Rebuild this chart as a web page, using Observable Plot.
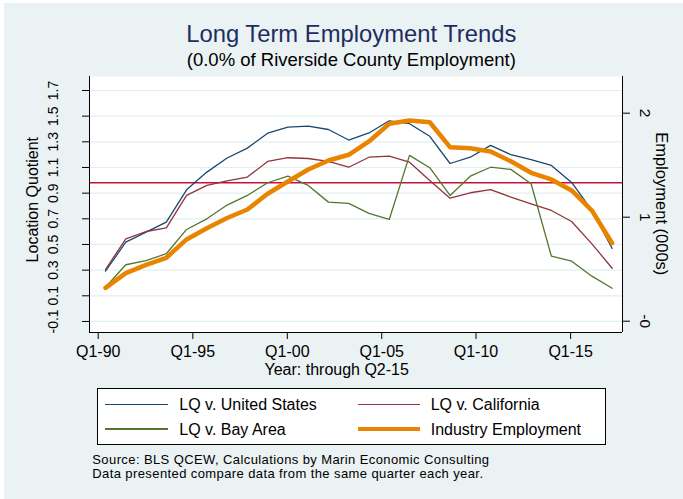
<!DOCTYPE html>
<html>
<head>
<meta charset="utf-8">
<script src="https://cdn.jsdelivr.net/npm/d3@7"></script>
<script src="https://cdn.jsdelivr.net/npm/@observablehq/plot@0.6"></script>
<style>
  html, body { margin: 0; padding: 0; background: #ffffff; }
  #chart { position: relative; width: 683px; height: 499px; overflow: hidden; background: #ffffff;
           font-family: "Liberation Sans", Arial, Helvetica, sans-serif; color: #000; }
  #bg { position: absolute; left: 4px; top: 3px; right: 0; bottom: 0; background: rgb(234,242,243); }
  .abs { position: absolute; white-space: nowrap; }
  #title { left: 0; width: 702.6px; top: 22px; text-align: center; font-size: 23.8px; line-height: 23.8px; color: #1c2d5e; }
  #subtitle { left: 0; width: 702.6px; top: 50.6px; text-align: center; font-size: 18.5px; line-height: 18.5px; color: #000; }
  #plotwrap { position: absolute; left: 0; top: 72px; }
  #legend { position: absolute; left: 97px; top: 388px; width: 509px; height: 57px; box-sizing: border-box;
            background: #fff; border: 1px solid #000; }
  .sw { position: absolute; }
  .lt { position: absolute; font-size: 16px; line-height: 16px; white-space: nowrap; }
  .cap { left: 92.3px; font-size: 13px; letter-spacing: 0.4px; line-height: 14.5px; height: 14.5px; }
  #cap1 { top: 452.6px; }
  #cap2 { top: 467.2px; }
</style>
</head>
<body>
<div id="chart">
  <div id="bg"></div>
  <div id="title" class="abs">Long Term Employment Trends</div>
  <div id="subtitle" class="abs">(0.0% of Riverside County Employment)</div>
  <div id="plotwrap"></div>
  <div id="legend"></div>
  <div id="cap1" class="abs cap">Source: BLS QCEW, Calculations by Marin Economic Consulting</div>
  <div id="cap2" class="abs cap">Data presented compare data from the same quarter each year.</div>
</div>
<script>
// ---- data ----
const years = [1990,1991,1992,1993,1994,1995,1996,1997,1998,1999,2000,2001,2002,2003,2004,2005,2006,2007,2008,2009,2010,2011,2012,2013,2014,2015];
const lqUS = [0.292,0.518,0.596,0.674,0.926,1.064,1.174,1.251,1.367,1.414,1.422,1.396,1.314,1.369,1.464,1.441,1.343,1.131,1.180,1.272,1.200,1.161,1.116,0.983,0.765,0.469];
const lqCA = [0.305,0.544,0.601,0.630,0.882,0.960,0.995,1.025,1.147,1.176,1.170,1.147,1.102,1.180,1.188,1.141,0.999,0.861,0.903,0.927,0.869,0.817,0.765,0.679,0.505,0.315];
const lqBay = [0.167,0.342,0.375,0.428,0.617,0.700,0.807,0.882,0.981,1.032,0.960,0.830,0.820,0.742,0.695,1.194,1.098,0.882,1.032,1.102,1.085,0.973,0.409,0.370,0.253,0.159];
const employment = [0.321,0.462,0.542,0.610,0.786,0.894,0.992,1.074,1.225,1.343,1.459,1.545,1.600,1.728,1.898,1.930,1.913,1.673,1.663,1.632,1.537,1.427,1.363,1.257,1.064,0.750];
const refLineLQ = [0.981];

const xTickPos = [1989.64, 1994.31, 1998.97, 2003.63, 2008.28, 2012.95];
const xTickLabels = ["Q1-90","Q1-95","Q1-00","Q1-05","Q1-10","Q1-15"];
const leftTicks = [-0.1, 0.1, 0.3, 0.5, 0.7, 0.9, 1.1, 1.3, 1.5, 1.7];
const leftTickLabels = ["-0.1","0.1","0.3","0.5","0.7","0.9","1.1","1.3","1.5","1.7"];
const rightTicks = [0, 1, 2];
const rightTickLabels = ["-0","1","2"];

const seriesNames = ["LQ v. United States","LQ v. California","LQ v. Bay Area","Industry Employment"];
const seriesColors = ["#1a476f","#90353b","#55752f","rgb(232,132,0)"];
const seriesWidths = [1.3, 1.3, 1.3, 4.5];

const xTitle = "Year: through Q2-15";
const yTitleLeft = "Location Quotient";
const yTitleRight = "Employment (000s)";

// ---- build ----
const empToLQ = e => -0.098 + 0.8106 * e;   // right axis mapped onto left scale
const rows = years.map((yr, i) => ({year: yr, us: lqUS[i], ca: lqCA[i], bay: lqBay[i], emp: empToLQ(employment[i])}));
const xDomain = [1989.21, 2015.51];
const yDomain = [-0.186, 1.809];
const xLab = new Map(xTickPos.map((p, i) => [p, xTickLabels[i]]));
const lLab = new Map(leftTicks.map((p, i) => [p, leftTickLabels[i]]));
const rightTicksLQ = rightTicks.map(empToLQ);
const rLab = new Map(rightTicksLQ.map((p, i) => [p, rightTickLabels[i]]));
const font = '"Liberation Sans", Arial, Helvetica, sans-serif';

const plot = Plot.plot({
  width: 683, height: 310,
  marginTop: 4, marginBottom: 50, marginLeft: 89, marginRight: 61,
  x: {domain: xDomain, axis: null},
  y: {domain: yDomain, axis: null},
  style: {fontFamily: font, fontSize: "16px", background: "transparent", overflow: "visible", color: "#000"},
  marks: [
    Plot.frame({fill: "white", stroke: "none"}),
    Plot.gridY(leftTicks, {stroke: "rgb(228,238,240)", strokeOpacity: 1, strokeWidth: 1.2}),
    Plot.ruleY(refLineLQ, {stroke: "#c8103c", strokeWidth: 1.5}),
    Plot.line(rows, {x: "year", y: "us", stroke: seriesColors[0], strokeWidth: seriesWidths[0]}),
    Plot.line(rows, {x: "year", y: "ca", stroke: seriesColors[1], strokeWidth: seriesWidths[1]}),
    Plot.line(rows, {x: "year", y: "bay", stroke: seriesColors[2], strokeWidth: seriesWidths[2]}),
    Plot.line(rows, {x: "year", y: "emp", stroke: seriesColors[3], strokeWidth: seriesWidths[3]}),
    Plot.ruleX([xDomain[0]], {stroke: "#000", strokeWidth: 1}),
    Plot.ruleX([xDomain[1]], {stroke: "#000", strokeWidth: 1}),
    Plot.ruleY([yDomain[0]], {stroke: "#000", strokeWidth: 1}),
    Plot.axisX(xTickPos, {anchor: "bottom", tickSize: 7, tickPadding: 6, tickFormat: d => xLab.get(d), fontSize: 16, label: null}),
    Plot.axisY(leftTicks, {anchor: "left", tickSize: 7, tickFormat: () => "", label: null}),
    Plot.axisY(rightTicksLQ, {anchor: "right", tickSize: 7, tickFormat: () => "", label: null}),
    Plot.text(leftTicks, {y: d => d, text: d => lLab.get(d), frameAnchor: "left", dx: -36, rotate: -90,
      textAnchor: "middle", lineAnchor: "middle", fontSize: 14}),
    Plot.text(rightTicksLQ, {y: d => d, text: d => rLab.get(d), frameAnchor: "right", dx: 22.3, rotate: 90,
      textAnchor: "middle", lineAnchor: "middle", fontSize: 15.5}),
    Plot.text([yTitleLeft], {text: d => d, frameAnchor: "left", dx: -56.5, dy: -4.8, rotate: -90,
      textAnchor: "middle", lineAnchor: "middle", fontSize: 16}),
    Plot.text([yTitleRight], {text: d => d, frameAnchor: "right", dx: 39, dy: -0.7, rotate: 90,
      textAnchor: "middle", lineAnchor: "middle", fontSize: 16.5}),
    Plot.text([xTitle], {text: d => d, frameAnchor: "bottom", dx: -19.3, dy: 37.6,
      textAnchor: "middle", lineAnchor: "middle", fontSize: 16})
  ]
});
document.getElementById("plotwrap").appendChild(plot);

// ---- legend ----
const legend = document.getElementById("legend");
const layout = [
  {sx: 7, sw: 63, ly: 15.5, tx: 81.3, ty: 8.2},
  {sx: 259.7, sw: 62.3, ly: 15.5, tx: 332.7, ty: 8.2},
  {sx: 7, sw: 63, ly: 40, tx: 81.3, ty: 32.5},
  {sx: 259.7, sw: 62.3, ly: 40, tx: 332.7, ty: 32.5}
];
seriesNames.forEach((name, s) => {
  const L = layout[s];
  const sw = document.createElement("div");
  sw.className = "sw";
  sw.style.left = L.sx + "px";
  sw.style.width = L.sw + "px";
  sw.style.top = (L.ly - seriesWidths[s] / 2) + "px";
  sw.style.height = seriesWidths[s] + "px";
  sw.style.background = seriesColors[s];
  legend.appendChild(sw);
  const t = document.createElement("div");
  t.className = "lt";
  t.style.left = L.tx + "px";
  t.style.top = L.ty + "px";
  t.textContent = name;
  legend.appendChild(t);
});
</script>
</body>
</html>
